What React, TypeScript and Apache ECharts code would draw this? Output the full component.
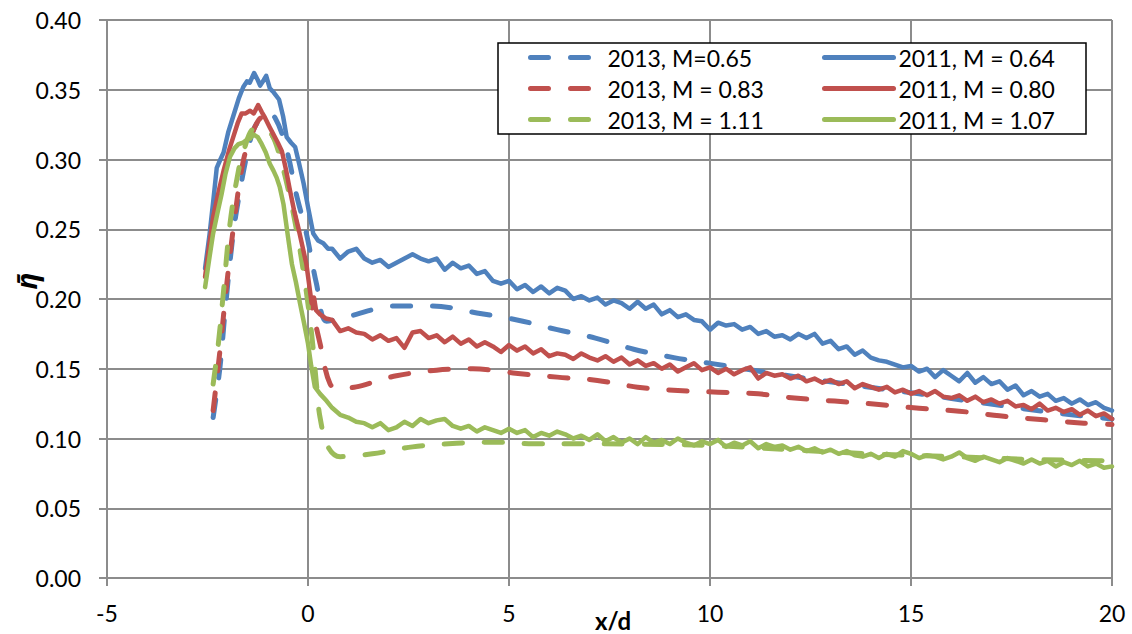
import React, { useEffect, useRef } from "react";
import * as echarts from "echarts";

const xTicks = [-5, 0, 5, 10, 15, 20];
const yTicks = [0, 0.05, 0.1, 0.15, 0.2, 0.25, 0.3, 0.35, 0.4];

const names2013 = ["2013, M=0.65", "2013, M = 0.83", "2013, M = 1.11"];
const names2011 = ["2011, M = 0.64", "2011, M = 0.80", "2011, M = 1.07"];

const blue2013: [number, number][] = [
  [-2.36, 0.115], [-2.19, 0.151], [-2.06, 0.192], [-1.86, 0.247], [-1.69, 0.278], [-1.53, 0.302],
  [-1.36, 0.321], [-1.19, 0.329], [-1.03, 0.332], [-0.82, 0.33], [-0.53, 0.307], [-0.29, 0.275],
  [-0.04, 0.247], [0.21, 0.211], [0.46, 0.184], [0.8, 0.186], [1.2, 0.189], [1.7, 0.193],
  [2.2, 0.195], [3.1, 0.195], [4.2, 0.19], [5.2, 0.185], [6.2, 0.178], [7.15, 0.172],
  [8.1, 0.164], [9.1, 0.158], [10.1, 0.1535], [11.6, 0.1465], [13.4, 0.139], [15.2, 0.132],
  [16.9, 0.125], [18.7, 0.118], [20, 0.114],
];

const red2013: [number, number][] = [
  [-2.36, 0.12], [-2.19, 0.163], [-2.02, 0.211], [-1.82, 0.259], [-1.61, 0.299], [-1.4, 0.318],
  [-1.15, 0.33], [-0.9, 0.318], [-0.7, 0.3065], [-0.45, 0.275], [-0.2, 0.242], [0.05, 0.201],
  [0.3, 0.168], [0.55, 0.139], [0.8, 0.136], [1.2, 0.137], [1.7, 0.141], [2.2, 0.145],
  [3.2, 0.149], [4.1, 0.15], [5.1, 0.147], [6.2, 0.144], [7.2, 0.1416], [8.2, 0.1368],
  [9.2, 0.1344], [10.2, 0.1332], [11.2, 0.132], [12.1, 0.129], [13.1, 0.1268], [14.2, 0.1244],
  [15.2, 0.1217], [16.2, 0.1196], [17.2, 0.1163], [18.3, 0.1134], [19.3, 0.111], [20, 0.11],
];

const green2013: [number, number][] = [
  [-2.36, 0.139], [-2.23, 0.168], [-2.1, 0.206], [-1.94, 0.254], [-1.73, 0.292], [-1.57, 0.309],
  [-1.4, 0.321], [-1.25, 0.322], [-1.1, 0.322], [-0.9, 0.318], [-0.7, 0.302], [-0.45, 0.273],
  [-0.24, 0.242], [-0.07, 0.211], [0.09, 0.175], [0.21, 0.139], [0.3, 0.115], [0.5, 0.094],
  [0.8, 0.087], [1.6, 0.089], [2.6, 0.094], [3.7, 0.0966], [4.6, 0.0974], [5.6, 0.0962],
  [6.6, 0.0962], [8, 0.096], [10, 0.095], [12, 0.092], [14, 0.089], [16, 0.087], [18, 0.085],
  [20, 0.084],
];

const blue2011: [number, number][] = [
  [-2.56, 0.222], [-2.45, 0.246], [-2.35, 0.272], [-2.27, 0.294], [-2.18, 0.3], [-2.1, 0.305],
  [-1.98, 0.32], [-1.86, 0.331], [-1.72, 0.344], [-1.61, 0.352], [-1.52, 0.356], [-1.45, 0.355],
  [-1.34, 0.362], [-1.25, 0.357], [-1.19, 0.353], [-1.1, 0.357], [-1.04, 0.36], [-0.95, 0.351],
  [-0.85, 0.348], [-0.72, 0.343], [-0.62, 0.331], [-0.53, 0.316], [-0.42, 0.312], [-0.32, 0.309],
  [-0.22, 0.297], [-0.11, 0.283], [0.0, 0.266], [0.13, 0.247], [0.25, 0.242], [0.38, 0.24],
  [0.5, 0.236], [0.6, 0.236], [0.8, 0.229], [1.0, 0.234], [1.2, 0.236], [1.4, 0.229], [1.6, 0.226],
  [1.8, 0.228], [2.0, 0.223], [2.2, 0.226], [2.4, 0.229], [2.6, 0.232], [2.8, 0.229], [3.0, 0.227],
  [3.2, 0.229], [3.4, 0.221], [3.6, 0.226], [3.8, 0.222], [4.0, 0.224], [4.2, 0.218], [4.4, 0.22],
  [4.6, 0.213], [4.8, 0.211], [5.0, 0.213], [5.2, 0.207], [5.4, 0.21], [5.6, 0.205], [5.8, 0.209],
  [6.0, 0.204], [6.2, 0.208], [6.4, 0.206], [6.6, 0.2], [6.8, 0.202], [7.0, 0.199], [7.2, 0.201],
  [7.4, 0.196], [7.6, 0.199], [7.8, 0.197], [8.0, 0.193], [8.2, 0.198], [8.4, 0.193], [8.6, 0.196],
  [8.8, 0.189], [9.0, 0.192], [9.2, 0.187], [9.4, 0.189], [9.6, 0.185], [9.8, 0.184], [10.0, 0.178],
  [10.2, 0.183], [10.4, 0.181], [10.6, 0.182], [10.8, 0.178], [11.0, 0.18], [11.2, 0.175],
  [11.4, 0.177], [11.6, 0.173], [11.8, 0.174], [12.0, 0.171], [12.2, 0.175], [12.4, 0.172],
  [12.6, 0.175], [12.8, 0.168], [13.0, 0.17], [13.2, 0.164], [13.4, 0.166], [13.6, 0.16],
  [13.8, 0.163], [14.0, 0.158], [14.2, 0.156], [14.4, 0.155], [14.6, 0.153], [14.8, 0.151],
  [15.0, 0.152], [15.2, 0.148], [15.4, 0.15], [15.6, 0.144], [15.8, 0.149], [16.0, 0.145],
  [16.2, 0.141], [16.4, 0.147], [16.6, 0.14], [16.8, 0.144], [17.0, 0.139], [17.2, 0.141],
  [17.4, 0.135], [17.6, 0.138], [17.8, 0.131], [18.0, 0.134], [18.2, 0.13], [18.4, 0.132],
  [18.6, 0.127], [18.8, 0.129], [19.0, 0.125], [19.2, 0.128], [19.4, 0.124], [19.6, 0.126],
  [19.8, 0.122], [20.0, 0.12],
];

const red2011: [number, number][] = [
  [-2.56, 0.216], [-2.46, 0.238], [-2.36, 0.259], [-2.2, 0.28], [-2.1, 0.292], [-1.95, 0.308],
  [-1.86, 0.316], [-1.75, 0.326], [-1.65, 0.333], [-1.55, 0.333], [-1.44, 0.335], [-1.35, 0.333],
  [-1.24, 0.339], [-1.15, 0.334], [-1.07, 0.33], [-0.95, 0.323], [-0.86, 0.318], [-0.75, 0.312],
  [-0.65, 0.306], [-0.55, 0.293], [-0.45, 0.278], [-0.35, 0.264], [-0.24, 0.251], [-0.14, 0.238],
  [-0.04, 0.225], [0.03, 0.21], [0.09, 0.197], [0.15, 0.201], [0.2, 0.192], [0.3, 0.189],
  [0.45, 0.186], [0.6, 0.185], [0.8, 0.177], [1.0, 0.179], [1.2, 0.176], [1.4, 0.175], [1.6, 0.171],
  [1.8, 0.174], [2.0, 0.17], [2.2, 0.172], [2.4, 0.165], [2.6, 0.176], [2.8, 0.177], [3.0, 0.172],
  [3.2, 0.174], [3.4, 0.169], [3.6, 0.173], [3.8, 0.168], [4.0, 0.171], [4.2, 0.166], [4.4, 0.169],
  [4.6, 0.166], [4.8, 0.162], [5.0, 0.167], [5.2, 0.163], [5.4, 0.166], [5.6, 0.161], [5.8, 0.164],
  [6.0, 0.159], [6.2, 0.161], [6.4, 0.16], [6.6, 0.157], [6.8, 0.161], [7.0, 0.158], [7.2, 0.156],
  [7.4, 0.159], [7.6, 0.155], [7.8, 0.158], [8.0, 0.153], [8.2, 0.156], [8.4, 0.152], [8.6, 0.154],
  [8.8, 0.15], [9.0, 0.153], [9.2, 0.148], [9.4, 0.151], [9.6, 0.154], [9.8, 0.149], [10.0, 0.151],
  [10.2, 0.147], [10.4, 0.15], [10.6, 0.146], [10.8, 0.149], [11.0, 0.151], [11.2, 0.143],
  [11.4, 0.147], [11.6, 0.145], [11.8, 0.146], [12.0, 0.143], [12.2, 0.145], [12.4, 0.141],
  [12.6, 0.143], [12.8, 0.14], [13.0, 0.142], [13.2, 0.139], [13.4, 0.141], [13.6, 0.136],
  [13.8, 0.139], [14.0, 0.137], [14.2, 0.135], [14.4, 0.137], [14.6, 0.133], [14.8, 0.135],
  [15.0, 0.132], [15.2, 0.134], [15.4, 0.131], [15.6, 0.134], [15.8, 0.13], [16.0, 0.129],
  [16.2, 0.131], [16.4, 0.127], [16.6, 0.13], [16.8, 0.126], [17.0, 0.128], [17.2, 0.125],
  [17.4, 0.127], [17.6, 0.123], [17.8, 0.124], [18.0, 0.121], [18.2, 0.125], [18.4, 0.12],
  [18.6, 0.122], [18.8, 0.119], [19.0, 0.121], [19.2, 0.117], [19.4, 0.12], [19.6, 0.116],
  [19.8, 0.118], [20.0, 0.114],
];

const green2011: [number, number][] = [
  [-2.56, 0.2085], [-2.45, 0.23], [-2.36, 0.247], [-2.25, 0.262], [-2.15, 0.275], [-2.05, 0.29],
  [-1.94, 0.302], [-1.83, 0.308], [-1.73, 0.311], [-1.62, 0.312], [-1.53, 0.314], [-1.44, 0.315],
  [-1.36, 0.318], [-1.25, 0.316], [-1.15, 0.311], [-1.05, 0.305], [-0.95, 0.297], [-0.86, 0.292],
  [-0.78, 0.287], [-0.7, 0.28], [-0.61, 0.268], [-0.5, 0.245], [-0.4, 0.225], [-0.3, 0.212],
  [-0.2, 0.197], [-0.1, 0.183], [0.0, 0.168], [0.08, 0.152], [0.17, 0.137], [0.3, 0.132],
  [0.46, 0.127], [0.6, 0.122], [0.8, 0.117], [1.0, 0.115], [1.2, 0.112], [1.4, 0.111], [1.6, 0.108],
  [1.8, 0.111], [2.0, 0.106], [2.2, 0.108], [2.4, 0.112], [2.6, 0.109], [2.8, 0.114], [3.0, 0.111],
  [3.2, 0.113], [3.4, 0.114], [3.6, 0.109], [3.8, 0.107], [4.0, 0.109], [4.2, 0.105], [4.4, 0.108],
  [4.6, 0.106], [4.8, 0.104], [5.0, 0.107], [5.2, 0.104], [5.4, 0.106], [5.6, 0.101], [5.8, 0.104],
  [6.0, 0.102], [6.2, 0.105], [6.4, 0.103], [6.6, 0.1], [6.8, 0.102], [7.0, 0.099], [7.2, 0.103],
  [7.4, 0.098], [7.6, 0.101], [7.8, 0.097], [8.0, 0.1], [8.2, 0.096], [8.4, 0.101], [8.6, 0.097],
  [8.8, 0.099], [9.0, 0.096], [9.2, 0.1], [9.4, 0.097], [9.6, 0.095], [9.8, 0.098], [10.0, 0.096],
  [10.2, 0.099], [10.4, 0.094], [10.6, 0.097], [10.8, 0.095], [11.0, 0.098], [11.2, 0.093],
  [11.4, 0.096], [11.6, 0.094], [11.8, 0.095], [12.0, 0.092], [12.2, 0.094], [12.4, 0.091],
  [12.6, 0.093], [12.8, 0.09], [13.0, 0.092], [13.2, 0.089], [13.4, 0.091], [13.6, 0.088],
  [13.8, 0.087], [14.0, 0.089], [14.2, 0.086], [14.4, 0.089], [14.6, 0.087], [14.8, 0.091],
  [15.0, 0.089], [15.2, 0.086], [15.4, 0.088], [15.6, 0.087], [15.8, 0.085], [16.0, 0.087],
  [16.2, 0.09], [16.4, 0.086], [16.6, 0.084], [16.8, 0.087], [17.0, 0.085], [17.2, 0.083],
  [17.4, 0.086], [17.6, 0.084], [17.8, 0.082], [18.0, 0.085], [18.2, 0.082], [18.4, 0.084],
  [18.6, 0.08], [18.8, 0.083], [19.0, 0.081], [19.2, 0.084], [19.4, 0.08], [19.6, 0.082],
  [19.8, 0.079], [20.0, 0.08],
];

const BLUE = "#4F81BD";
const RED = "#C0504D";
const GREEN = "#9BBB59";
const GRID = "#8c8c8c";
const FONT = "Lato, 'Open Sans', sans-serif";
const DASH = [18, 22];

export default function App() {
  const ref = useRef<HTMLDivElement>(null);
  useEffect(() => {
    if (!ref.current) return;
    const chart = echarts.init(ref.current, undefined, { renderer: "svg" });
    const dashed = (name: string, data: [number, number][], color: string) => ({
      name,
      type: "line",
      data,
      symbol: "none",
      showSymbol: false,
      smooth: 0.35,
      color,
      lineStyle: { color, width: 5, type: DASH, cap: "round", join: "round" },
    });
    const solid = (name: string, data: [number, number][], color: string) => ({
      name,
      type: "line",
      data,
      symbol: "none",
      showSymbol: false,
      color,
      lineStyle: { color, width: 4.5, type: "solid", cap: "round", join: "round" },
    });
    const legendCommon = {
      orient: "vertical",
      top: 42,
      padding: 0,
      itemGap: 0,
      itemHeight: 14,
      selectedMode: false,
      textStyle: { fontFamily: FONT, fontSize: 23, color: "#000", lineHeight: 31, height: 31 },
      itemStyle: { opacity: 0 },
    };
    chart.setOption({
      animation: false,
      grid: { left: 107, right: 20, top: 20, bottom: 56 },
      xAxis: {
        type: "value",
        min: xTicks[0],
        max: xTicks[xTicks.length - 1],
        interval: 5,
        axisLine: { show: true, onZero: false, lineStyle: { color: GRID, width: 2 } },
        axisTick: { show: true, length: 8, lineStyle: { color: GRID, width: 2 } },
        axisLabel: { color: "#000", fontFamily: FONT, fontSize: 23, margin: 23, formatter: (v: number) => String(v) },
        splitLine: { show: true, lineStyle: { color: GRID, width: 2 } },
      },
      yAxis: {
        type: "value",
        min: yTicks[0],
        max: yTicks[yTicks.length - 1],
        interval: 0.05,
        axisLine: { show: true, onZero: false, lineStyle: { color: GRID, width: 2 } },
        axisTick: { show: true, length: 8, lineStyle: { color: GRID, width: 2 } },
        axisLabel: { color: "#000", fontFamily: FONT, fontSize: 23, margin: 26, formatter: (v: number) => v.toFixed(2) },
        splitLine: { show: true, lineStyle: { color: GRID, width: 2 } },
      },
      legend: [
        {
          ...legendCommon,
          left: 528,
          itemWidth: 72,
          data: names2013,
          lineStyle: { width: 5, type: DASH, cap: "round" },
        },
        {
          ...legendCommon,
          left: 822,
          itemWidth: 69,
          data: names2011,
          lineStyle: { width: 5, type: "solid", cap: "round" },
        },
      ],
      graphic: [
        {
          type: "rect",
          z: 3,
          shape: { x: 498, y: 43, width: 588, height: 91 },
          style: { fill: "#fff", stroke: "#000", lineWidth: 1.5 },
        },
        {
          type: "text",
          x: 26,
          y: 281,
          rotation: Math.PI / 2,
          style: {
            text: "\u03B7\u0304",
            font: "italic bold 28px 'Noto Sans', 'DejaVu Sans', serif",
            fill: "#000",
            align: "center",
            verticalAlign: "middle",
          },
        },
        {
          type: "text",
          x: 613,
          y: 620,
          style: {
            text: "x/d",
            font: `bold 24px ${FONT}`,
            fill: "#000",
            align: "center",
            verticalAlign: "middle",
          },
        },
      ],
      series: [
        dashed(names2013[0], blue2013, BLUE),
        dashed(names2013[1], red2013, RED),
        dashed(names2013[2], green2013, GREEN),
        solid(names2011[0], blue2011, BLUE),
        solid(names2011[1], red2011, RED),
        solid(names2011[2], green2011, GREEN),
      ],
    });
    return () => chart.dispose();
  }, []);
  return (
    <div
      ref={ref}
      style={{ position: "fixed", left: 0, top: 0, width: 1132, height: 634, background: "#fff" }}
    />
  );
}
